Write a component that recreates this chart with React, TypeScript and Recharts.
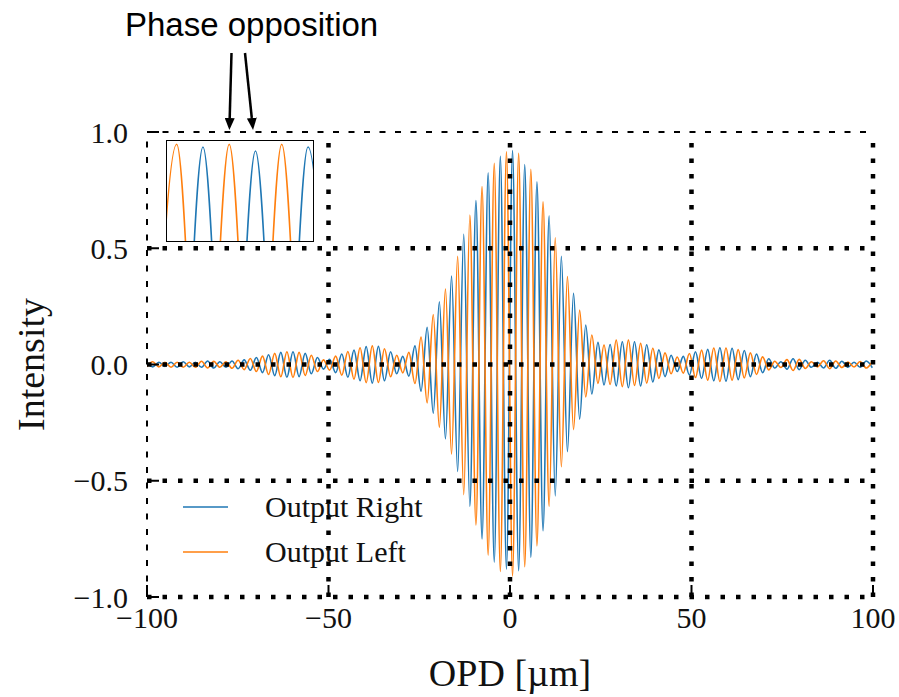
import React from 'react';
import { LineChart, Line, XAxis, YAxis, ReferenceLine, Legend, Label } from 'recharts';

// OPD positions (µm) of the fringe extrema
const opdPositions = [
  -100.1, -98.42, -96.74, -95.06, -93.38, -91.7, -90.02, -88.34, -86.66, -84.98,
  -83.3, -81.62, -79.94, -78.26, -76.58, -74.9, -73.22, -71.54, -69.86, -68.18,
  -66.5, -64.82, -63.14, -61.46, -59.78, -58.1, -56.42, -54.74, -53.06, -51.38,
  -49.7, -48.02, -46.34, -44.66, -42.98, -41.3, -39.62, -37.94, -36.26, -34.58,
  -32.9, -31.22, -29.54, -27.86, -26.18, -24.5, -22.82, -21.14, -19.46, -17.78,
  -16.1, -14.42, -12.74, -11.06, -9.38, -7.7, -6.02, -4.34, -2.66, -0.98,
  0.7, 2.38, 4.06, 5.74, 7.42, 9.1, 10.78, 12.46, 14.14, 15.82,
  17.5, 19.18, 20.86, 22.54, 24.22, 25.9, 27.58, 29.26, 30.94, 32.62,
  34.3, 35.98, 37.66, 39.34, 41.02, 42.7, 44.38, 46.06, 47.74, 49.42,
  51.1, 52.78, 54.46, 56.14, 57.82, 59.5, 61.18, 62.86, 64.54, 66.22,
  67.9, 69.58, 71.26, 72.94, 74.62, 76.3, 77.98, 79.66, 81.34, 83.02,
  84.7, 86.38, 88.06, 89.74, 91.42, 93.1, 94.78, 96.46, 98.14, 99.82,
];

const outputRight = [
  0.01, -0.01, 0.01, -0.008, 0.01, -0.012, 0.012, -0.01, 0.01, -0.012,
  0.015, -0.015, 0.012, -0.012, 0.015, -0.018, 0.02, -0.025, 0.03, -0.035,
  0.042, -0.048, 0.052, -0.055, 0.055, -0.052, 0.048, -0.04, 0.03, -0.02,
  0.022, -0.035, 0.045, -0.055, 0.062, -0.07, 0.077, -0.08, 0.078, -0.07,
  0.055, -0.04, 0.035, -0.05, 0.08, -0.115, 0.16, -0.21, 0.27, -0.32,
  0.38, -0.46, 0.56, -0.61, 0.705, -0.75, 0.825, -0.85, 0.895, -0.88,
  0.92, -0.887, 0.86, -0.83, 0.786, -0.715, 0.64, -0.565, 0.465, -0.375,
  0.306, -0.235, 0.17, -0.127, 0.095, -0.088, 0.086, -0.092, 0.098, -0.1,
  0.098, -0.092, 0.085, -0.075, 0.063, -0.052, 0.04, -0.03, 0.035, -0.045,
  0.055, -0.06, 0.065, -0.07, 0.072, -0.072, 0.07, -0.065, 0.06, -0.052,
  0.045, -0.035, 0.025, -0.015, 0.012, -0.02, 0.025, -0.022, 0.018, -0.012,
  0.01, -0.015, 0.018, -0.016, 0.014, -0.012, 0.01, -0.012, 0.015, -0.014,
];

const outputLeft = [
  -0.01, 0.012, -0.01, 0.01, -0.012, 0.01, -0.012, 0.01, -0.012, 0.014,
  -0.015, 0.014, -0.012, 0.012, -0.016, 0.018, -0.022, 0.026, -0.03, 0.036,
  -0.043, 0.048, -0.053, 0.055, -0.056, 0.052, -0.047, 0.04, -0.03, 0.02,
  -0.024, 0.036, -0.046, 0.056, -0.063, 0.072, -0.078, 0.08, -0.077, 0.068,
  -0.053, 0.04, -0.036, 0.052, -0.082, 0.118, -0.165, 0.215, -0.27, 0.325,
  -0.385, 0.465, -0.56, 0.643, -0.69, 0.765, -0.82, 0.865, -0.89, 0.915,
  -0.91, 0.908, -0.87, 0.84, -0.78, 0.7, -0.61, 0.545, -0.44, 0.378,
  -0.28, 0.234, -0.14, 0.127, -0.081, 0.084, -0.086, 0.105, -0.095, 0.105,
  -0.09, 0.091, -0.08, 0.07, -0.06, 0.05, -0.04, 0.032, -0.037, 0.047,
  -0.056, 0.062, -0.067, 0.071, -0.073, 0.071, -0.068, 0.064, -0.058, 0.05,
  -0.043, 0.033, -0.023, 0.014, -0.013, 0.021, -0.026, 0.022, -0.017, 0.012,
  -0.01, 0.016, -0.018, 0.015, -0.013, 0.011, -0.011, 0.013, -0.015, 0.013,
];

const seriesNames = ['Output Right', 'Output Left'];
const xTicks = [-100, -50, 0, 50, 100];
const xTickLabels = ['\u2212100', '\u221250', '0', '50', '100'];
const yTicks = [-1, -0.5, 0, 0.5, 1];
const yTickLabels = ['\u22121.0', '\u22120.5', '0.0', '0.5', '1.0'];
const gridX = [-50, 0, 50, 100];
const gridY = [-1, -0.5, 0, 0.5];

// inset (zoom showing the phase opposition)
const insetOpd = [-2.66, -0.98, 0.7, 2.38, 4.06, 5.74, 7.42, 9.1];
const insetRight = [0.92, -0.9, 0.92, -0.9, 0.9, -0.9, 0.92, -0.9];
const insetLeft = [-0.9, 0.934, -0.9, 0.934, -0.9, 0.934, -0.9, 0.93];

const data = opdPositions.map((opd, i) => ({ opd, right: outputRight[i], left: outputLeft[i] }));
const insetData = insetOpd.map((opd, i) => ({ opd, right: insetRight[i], left: insetLeft[i] }));

const SERIF = '"Liberation Serif", "Times New Roman", serif';
const SANS = '"Liberation Sans", Arial, sans-serif';
const BLUE = '#1f77b4';
const ORANGE = '#ff7f0e';
const TEXT = '#111';

function LegendContent(props: any) {
  const payload = [...(props.payload || [])].sort(
    (a: any, b: any) => seriesNames.indexOf(a.value) - seriesNames.indexOf(b.value)
  );
  return (
    <div>
      {payload.map((entry: any, i: number) => (
        <div key={i} style={{ display: 'flex', alignItems: 'center', height: 45 }}>
          <svg width={45} height={4} style={{ display: 'block' }}>
            <line x1={0} y1={2} x2={45} y2={2} stroke={entry.color} strokeWidth={1.5} />
          </svg>
          <span style={{ marginLeft: 37, fontFamily: SERIF, fontSize: 30, color: TEXT, lineHeight: '45px', whiteSpace: 'nowrap' }}>
            {entry.value}
          </span>
        </div>
      ))}
    </div>
  );
}

export default function App() {
  return (
    <div style={{ position: 'absolute', left: 0, top: 0, width: 899, height: 697, background: '#fff' }}>
      <LineChart width={899} height={697} data={data} margin={{ top: 132, right: 26, bottom: 60, left: 7 }}>
        <XAxis
          dataKey="opd"
          type="number"
          domain={[-100, 100]}
          ticks={xTicks}
          interval={0}
          allowDataOverflow
          tickFormatter={(v: number) => xTickLabels[xTicks.indexOf(v)]}
          axisLine={false}
          tickLine={{ stroke: '#000', strokeWidth: 2 }}
          tickSize={-12}
          tickMargin={22}
          height={40}
          tick={{ fill: TEXT, fontSize: 30, fontFamily: SERIF }}
        >
          <Label value="OPD [µm]" position="bottom" offset={22} style={{ fontSize: 38, fontFamily: SERIF, fill: TEXT }} />
        </XAxis>
        <YAxis
          type="number"
          domain={[-1, 1]}
          ticks={yTicks}
          interval={0}
          allowDataOverflow
          tickFormatter={(v: number) => yTickLabels[yTicks.indexOf(v)]}
          axisLine={false}
          tickLine={{ stroke: '#000', strokeWidth: 2 }}
          tickSize={-12}
          tickMargin={31}
          width={140}
          tick={{ fill: TEXT, fontSize: 30, fontFamily: SERIF }}
        >
          <Label
            value="Intensity"
            angle={-90}
            position="insideLeft"
            offset={24}
            textAnchor="middle"
            style={{ fontSize: 38, fontFamily: SERIF, fill: TEXT, textAnchor: 'middle' }}
          />
        </YAxis>
        <Line dataKey="right" name={seriesNames[0]} type="monotone" stroke={BLUE} strokeWidth={1.6} dot={false} isAnimationActive={false} />
        <Line dataKey="left" name={seriesNames[1]} type="monotone" stroke={ORANGE} strokeWidth={1.6} dot={false} isAnimationActive={false} />
        <ReferenceLine y={1} stroke="#000" strokeWidth={2} strokeDasharray="6 9.5" />
        <ReferenceLine x={-100} stroke="#000" strokeWidth={2} strokeDasharray="6 9.5" />
        {gridX.map((gx) => (
          <ReferenceLine key={'gx' + gx} x={gx} stroke="#000" strokeWidth={4.5} strokeDasharray="4.5 11" />
        ))}
        {gridY.map((gy) => (
          <ReferenceLine key={'gy' + gy} y={gy} stroke="#000" strokeWidth={4.5} strokeDasharray="4.5 11" />
        ))}
        <Legend
          verticalAlign="middle"
          align="center"
          itemSorter={(item: any) => seriesNames.indexOf(item.value)}
          content={<LegendContent />}
          wrapperStyle={{ left: 183, top: 484, width: 320, height: 90 }}
        />
      </LineChart>

      <div style={{ position: 'absolute', left: 166, top: 140, width: 146, height: 100, border: '1.5px solid #000', background: '#fff' }}>
        <LineChart width={146} height={100} data={insetData} margin={{ top: 0, right: 0, bottom: 0, left: 0 }}>
          <XAxis dataKey="opd" type="number" domain={[-1.6, 7.74]} hide allowDataOverflow />
          <YAxis type="number" domain={[0.45, 0.95]} hide allowDataOverflow />
          <Line dataKey="right" type="monotone" stroke={BLUE} strokeWidth={1.5} dot={false} isAnimationActive={false} />
          <Line dataKey="left" type="monotone" stroke={ORANGE} strokeWidth={1.5} dot={false} isAnimationActive={false} />
        </LineChart>
      </div>

      <svg width={899} height={697} style={{ position: 'absolute', left: 0, top: 0, pointerEvents: 'none' }}>
        <defs>
          <marker id="arrowHead" markerUnits="userSpaceOnUse" markerWidth={12} markerHeight={10} refX={0} refY={5} orient="auto">
            <path d="M0,0 L12,5 L0,10 z" fill="#000" />
          </marker>
        </defs>
        <text x={125} y={36} fontFamily={SANS} fontSize={33} fill="#000">Phase opposition</text>
        <line x1={231.5} y1={53} x2={229.7} y2={118} stroke="#000" strokeWidth={2.5} markerEnd="url(#arrowHead)" />
        <line x1={245} y1={53} x2={251.8} y2={118} stroke="#000" strokeWidth={2.5} markerEnd="url(#arrowHead)" />
      </svg>
    </div>
  );
}
